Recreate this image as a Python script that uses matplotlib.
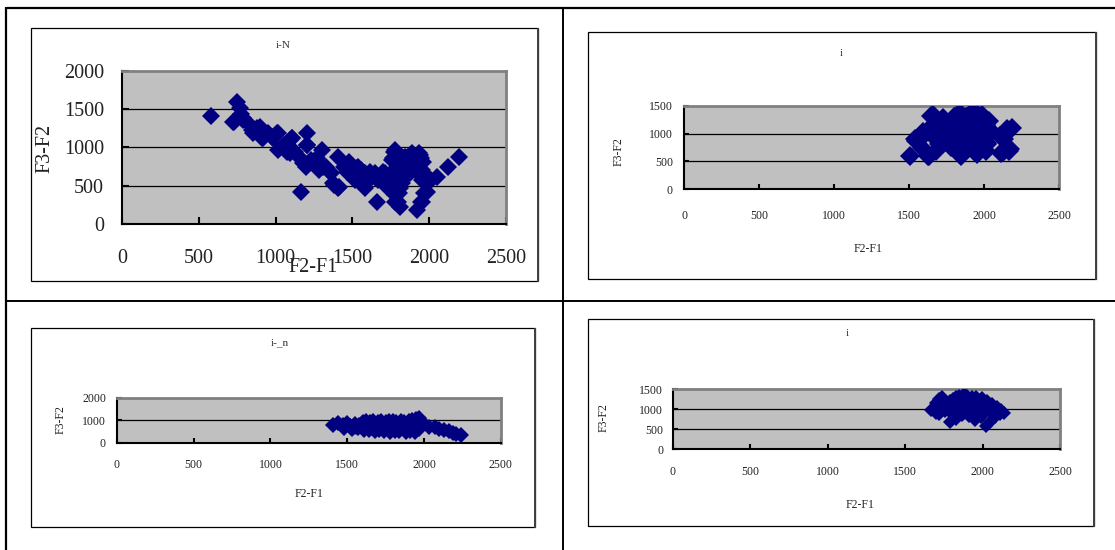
import matplotlib
matplotlib.use('Agg')
import matplotlib.pyplot as plt
from matplotlib.lines import Line2D
from matplotlib.patches import Rectangle

# ---------------- data ----------------
x_ticks = [0, 500, 1000, 1500, 2000, 2500]
x_label = "F2-F1"
y_label = "F3-F2"
titles = ["i-N", "i", "i-_n", "i"]

x1 = [580, 750, 765, 776, 725, 787, 831, 875, 897, 853, 908, 952, 985, 1007, 1018, 1051, 1073, 1096, 1107, 1129,
      1151, 1162, 1206, 1206, 1195, 1228, 1250, 1283, 1305, 1327, 1360, 1382, 1404, 1415, 1448, 1481, 1503, 1514, 1537, 1559,
      1581, 1581, 1603, 1625, 1647, 1658, 1669, 1691, 1713, 1724, 1735, 1757, 1768, 1779, 1790, 1790, 1801, 1812, 1779, 1823,
      1845, 1867, 1878, 1889, 1911, 1922, 1933, 1944, 1955, 1922, 1944, 1966, 1977, 1988, 2010, 2054, 2121, 2198,
      724, 790, 843, 920, 974, 1017, 1104, 1094, 1202, 1180, 1267, 1311, 1354, 1376, 1409, 1463, 1528, 1550, 1572, 1615,
      1648, 1702, 1692, 1745, 1778, 1767, 1789, 1789, 1800, 1778, 1811, 1843, 1854, 1876, 1898, 1941, 1919, 1963, 1952, 1984,
      1952, 1974]
y1 = [1410, 1600, 1520, 1443, 1335, 1357, 1290, 1248, 1270, 1183, 1117, 1183, 1117, 1191, 965, 1030, 943, 1096, 1117, 943,
      878, 422, 1183, 1030, 748, 835, 791, 704, 965, 748, 661, 509, 878, 487, 748, 813, 661, 574, 748, 704,
      661, 465, 617, 617, 661, 291, 574, 617, 661, 487, 574, 835, 943, 965, 748, 617, 400, 226, 291, 530,
      878, 835, 661, 922, 878, 791, 922, 857, 704, 183, 291, 400, 530, 617, 574, 617, 748, 878,
      1338, 1382, 1229, 1120, 1142, 1186, 1120, 924, 1033, 793, 858, 749, 683, 531, 466, 683, 728, 618, 509, 683,
      618, 683, 575, 640, 945, 858, 728, 575, 291, 378, 466, 814, 640, 902, 771, 902, 683, 814, 575, 421,
      291, 640]

x2 = [1509, 1538, 1588, 1611, 1657, 1657, 1634, 1680, 1691, 1725, 1748, 1702, 1771, 1794, 1816, 1839, 1839, 1873, 1885, 1919,
      1930, 1930, 1953, 1987, 1976, 2010, 2021, 2044, 2033, 2010, 1816, 1885, 1839, 1725, 2158, 2135, 2112, 2169, 2185, 2124,
      1548, 1625, 1592, 1647, 1680, 1811, 1910, 1998, 2020, 1844, 1954, 2151, 2173, 2129, 2107,
      1760, 1790, 1850, 1870, 1900, 1950, 1980, 1860, 1900, 1940, 1820, 1960, 1990, 1780, 1870, 1920,
      1760, 1800, 1820, 1850, 1880, 1900, 1920, 1960, 2000, 2020, 1840, 1880, 1980, 1780, 1700, 1740]
y2 = [600, 894, 747, 1012, 1159, 1335, 600, 688, 924, 1276, 1159, 806, 924, 1041, 1218, 1365, 688, 1159, 747, 1041,
      1394, 688, 924, 1335, 747, 1159, 806, 1041, 1218, 688, 924, 924, 982, 1041, 1041, 894, 659, 688, 1100, 982,
      869, 601, 1018, 1315, 899, 1315, 1375, 1256, 839, 601, 631, 1077, 720, 661, 958,
      1000, 850, 1100, 900, 1250, 1100, 950, 800, 1000, 1200, 780, 1300, 1050, 1150, 1050, 850,
      1150, 1300, 900, 1250, 1300, 800, 1150, 1000, 900, 1100, 800, 1050, 1200, 750, 1000, 900]

x3 = [1405, 1440, 1470, 1500, 1520, 1550, 1580, 1600, 1620, 1650, 1670, 1700, 1720, 1750, 1770, 1800, 1820, 1850, 1870, 1900,
      1920, 1950, 1965, 1990, 2030, 2070, 2100, 2130, 2160, 2190, 2210, 2240,
      1480, 1530, 1570, 1610, 1640, 1680, 1710, 1740, 1780, 1810, 1840, 1880, 1910, 1940, 1970,
      1600, 1660, 1720, 1790, 1860, 1930,
      1520, 1560, 1600, 1640, 1680, 1720, 1760, 1800, 1840, 1880, 1920, 1960]
y3 = [800, 870, 790, 860, 760, 840, 810, 930, 950, 940, 960, 930, 950, 940, 950, 960, 920, 950, 930, 960,
      990, 1060, 1080, 900, 700, 720, 610, 560, 500, 450, 380, 350,
      640, 620, 650, 580, 560, 530, 560, 500, 480, 500, 530, 480, 520, 470, 600,
      700, 650, 720, 620, 700, 750,
      760, 720, 800, 780, 760, 800, 760, 740, 760, 740, 760, 820]

x4 = [1665, 1690, 1700, 1720, 1735, 1750, 1700, 1720, 1760, 1790, 1810, 1830, 1850, 1877, 1900, 1932, 1960, 1998, 2030, 2060,
      2090, 2120, 2140,
      1790, 1830, 1870, 1910, 1950, 1990, 2020, 2050, 2080, 2110,
      1760, 1800, 1840, 1880, 1920, 1960, 2000, 2040, 2070, 1700, 1740, 1780,
      1820, 1860, 1900, 1940, 1980, 2020, 2060, 1850, 1920, 1980,
      1800, 1840, 1880, 1900, 1940, 1960, 2000, 2040, 2080, 1880, 1960, 1840, 1760, 1720, 1720, 2100]
y4 = [980, 1050, 1150, 1250, 1310, 1220, 900, 880, 1000, 1200, 1260, 1300, 1330, 1370, 1320, 1290, 1290, 1280, 1200, 1120,
      1050, 980, 910,
      680, 760, 840, 820, 720, 800, 580, 680, 800, 880,
      1000, 1050, 1100, 1150, 1100, 1150, 1100, 1050, 1000, 960, 1000, 950,
      900, 950, 1000, 950, 900, 950, 980, 1200, 1200, 1150,
      1100, 1200, 1250, 1100, 1100, 1050, 1000, 950, 920, 900, 850, 1000, 950, 980, 1150, 950]

y_ticks1 = [0, 500, 1000, 1500, 2000]
y_ticks2 = [0, 500, 1000, 1500]
y_ticks3 = [0, 1000, 2000]
y_ticks4 = [0, 500, 1000, 1500]

# ---------------- layout ----------------
W, H = 1115, 550
plt.rcParams['font.family'] = ['Liberation Serif', 'DejaVu Serif']
fig = plt.figure(figsize=(W / 100, H / 100), dpi=100)


def fx(x):
    return x / W


def fy(y):
    return 1 - y / H


def line(xs, ys, lw=1.5, color='black'):
    fig.add_artist(Line2D([fx(v) for v in xs], [fy(v) for v in ys], color=color, lw=lw,
                          transform=fig.transFigure, solid_capstyle='butt'))


# table lines
line([6, 1115], [7.5, 7.5], lw=1.6)
line([6, 6], [6.5, 550], lw=1.6)
line([563, 563], [6.5, 550], lw=1.4)
line([6, 1115], [301, 301], lw=1.4)

NAVY = '#000080'


def panel(box, plot, xs, ys, yt, title, title_xy, xlab_xy, ylab_xy,
          tick_fs, lab_fs, ms, ypad, xpad, ticklen):
    l, t, r, b = box
    fig.add_artist(Rectangle((fx(l), fy(b)), (r - l) / W, (b - t) / H, fill=False,
                             ec='black', lw=0.9, transform=fig.transFigure))
    line([r, r], [t, b + 0.5], lw=1.4, color='#404040')
    pl, pt, pr, pb = plot
    ax = fig.add_axes([fx(pl), fy(pb), (pr - pl) / W, (pb - pt) / H])
    ax.set_facecolor('#C0C0C0')
    for v in yt[1:-1]:
        ax.axhline(v, color='black', lw=0.9, zorder=1.5)
    ax.plot(xs, ys, linestyle='none', marker='D', ms=ms, color=NAVY, mec=NAVY, mew=0, zorder=3)
    ax.set_xlim(x_ticks[0], x_ticks[-1])
    ax.set_ylim(yt[0], yt[-1])
    ax.set_xticks(x_ticks)
    ax.set_yticks(yt)
    ax.set_xticklabels([str(v) for v in x_ticks])
    ax.set_yticklabels([str(v) for v in yt])
    for s in ['left', 'bottom']:
        ax.spines[s].set_color('black')
        ax.spines[s].set_linewidth(1.5)
    for s in ['top', 'right']:
        ax.spines[s].set_color('#808080')
        ax.spines[s].set_linewidth(2.0)
    ax.tick_params(axis='both', direction='in', length=ticklen, width=1.5, color='black',
                   labelsize=tick_fs, labelcolor='#222222')
    ax.tick_params(axis='y', pad=ypad)
    ax.tick_params(axis='x', pad=xpad)
    fig.text(fx(title_xy[0]), fy(title_xy[1]), title, ha='center', va='center', fontsize=8, color='#333333')
    fig.text(fx(xlab_xy[0]), fy(xlab_xy[1]), x_label, ha='center', va='center', fontsize=lab_fs, color='#222222')
    fig.text(fx(ylab_xy[0]), fy(ylab_xy[1]), y_label, ha='center', va='center', fontsize=lab_fs,
             rotation=90, color='#222222')
    return ax


panel((31, 28, 538, 281), (122.3, 70.9, 505.8, 223.9), x1, y1, y_ticks1, titles[0],
      (283, 46), (313, 268), (45, 148), 14.5, 14.5, 9.5, 13, 18, 5)
panel((588, 32, 1096, 279), (684, 105.5, 1059, 189.5), x2, y2, y_ticks2, titles[1],
      (841, 53), (868, 249), (619, 152), 8.5, 8.5, 10.0, 8, 15, 3.5)
panel((31, 328, 535, 527), (117, 397.8, 500.7, 442.7), x3, y3, y_ticks3, titles[2],
      (280, 343), (309, 494), (61, 420), 8.5, 8.5, 8.0, 8, 12, 3.5)
panel((588, 319, 1094, 526), (673, 389, 1060, 449), x4, y4, y_ticks4, titles[3],
      (847, 334), (860, 505), (604, 418), 8.5, 8.5, 7.5, 7, 12, 3.5)

fig.savefig('out.png', dpi=100)
